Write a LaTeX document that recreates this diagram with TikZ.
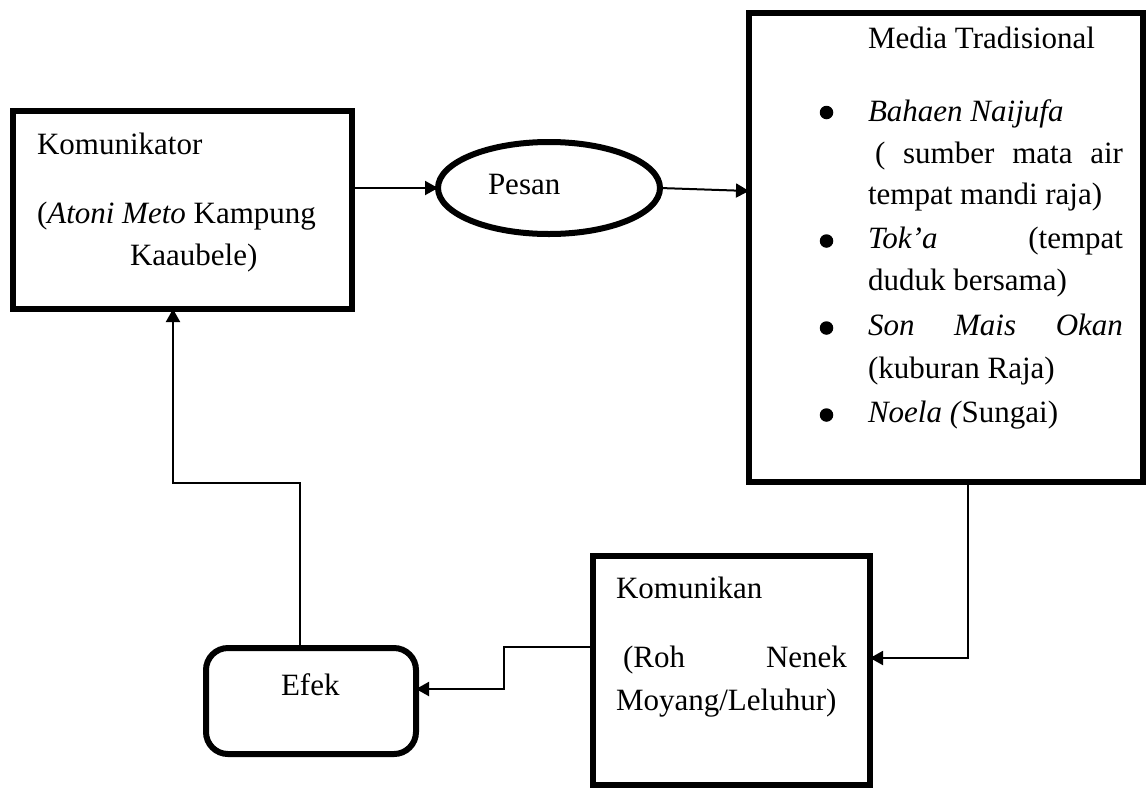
\documentclass[tikz,border=0pt]{standalone}
\usepackage{fontspec}
\setmainfont{Liberation Serif}
\usetikzlibrary{arrows.meta,shapes.geometric}
\begin{document}
\begin{tikzpicture}[x=1pt,y=-1pt,
  box/.style={draw,line width=6pt,inner sep=0pt,outer sep=0pt},
  oval/.style={draw,ellipse,line width=6pt,inner sep=0pt,outer sep=0pt},
  rbox/.style={draw,line width=6pt,rounded corners=22pt,inner sep=0pt,outer sep=0pt},
  txt/.style={inner sep=0pt,outer sep=0pt,anchor=base west,font=\fontsize{31}{43}\selectfont},
  bul/.style={circle,fill,inner sep=0pt,outer sep=0pt,minimum size=13.5pt},
  conn/.style={line width=2pt},
  arr/.style={line width=2pt,-{Triangle[length=13pt,width=14pt]}}]
\useasboundingbox (0,0) rectangle (1147,788);
% shapes
\node[box,minimum width=339pt,minimum height=198pt] (komunikator) at (182,210) {};
\node[oval,minimum width=222pt,minimum height=92pt] (pesan) at (549,188) {};
\node[box,minimum width=394pt,minimum height=469pt] (media) at (946,247.5) {};
\node[box,minimum width=277pt,minimum height=229pt] (komunikan) at (731.5,670.5) {};
\node[rbox,minimum width=210pt,minimum height=106pt] (efek) at (311,701) {};
% texts
\node[txt] (t1) at (37,154) {Komunikator};
\node[txt] (t2) at (37,223) {(\textit{Atoni Meto} Kampung};
\node[txt] (t3) at (130,265) {Kaaubele)};
\node[txt] (t4) at (488,194) {Pesan};
\node[txt] (t5) at (868,48) {Media Tradisional};
\node[bul] (b1) at (826.5,112.5) {};
\node[bul] (b2) at (826.5,241) {};
\node[bul] (b3) at (826.5,328) {};
\node[bul] (b4) at (826.5,415) {};
\node[txt] (m1) at (868,121) {\textit{Bahaen Naijufa}};
\node[txt] (m2) at (875,163) {\makebox[248pt][s]{( sumber mata air}};
\node[txt] (m3) at (868,204) {tempat mandi raja)};
\node[txt] (m4) at (868,248) {\makebox[255pt][s]{\textit{Tok’a} (tempat}};
\node[txt] (m5) at (868,290) {duduk bersama)};
\node[txt] (m6) at (868,335) {\makebox[255pt][s]{\textit{Son Mais Okan}}};
\node[txt] (m7) at (868,378) {(kuburan Raja)};
\node[txt] (m8) at (868,422) {\textit{Noela (}Sungai)};
\node[txt] (k1) at (616,598) {Komunikan};
\node[txt] (k2) at (623,667) {\makebox[224pt][s]{(Roh Nenek}};
\node[txt] (k3) at (616,710) {Moyang/Leluhur)};
\node[txt] (e1) at (281,695) {Efek};
% connectors
\draw[arr] (komunikator.east |- pesan.west) -- (pesan.west);
\draw[arr] (pesan.east) -- ([yshift=-3pt]media.west |- pesan.east);
\coordinate (c1) at (968,658);
\draw[arr] (media.south -| c1) -- (c1) -- (komunikan.east |- c1);
\coordinate (c2) at (504,647);
\coordinate (c3) at (504,689);
\draw[arr] (komunikan.west |- c2) -- (c2) -- (c3) -- (efek.east |- c3);
\coordinate (c4) at (300,483);
\coordinate (c5) at (173,483);
\draw[arr] (efek.north -| c4) -- (c4) -- (c5) -- (komunikator.south -| c5);
\end{tikzpicture}
\end{document}
